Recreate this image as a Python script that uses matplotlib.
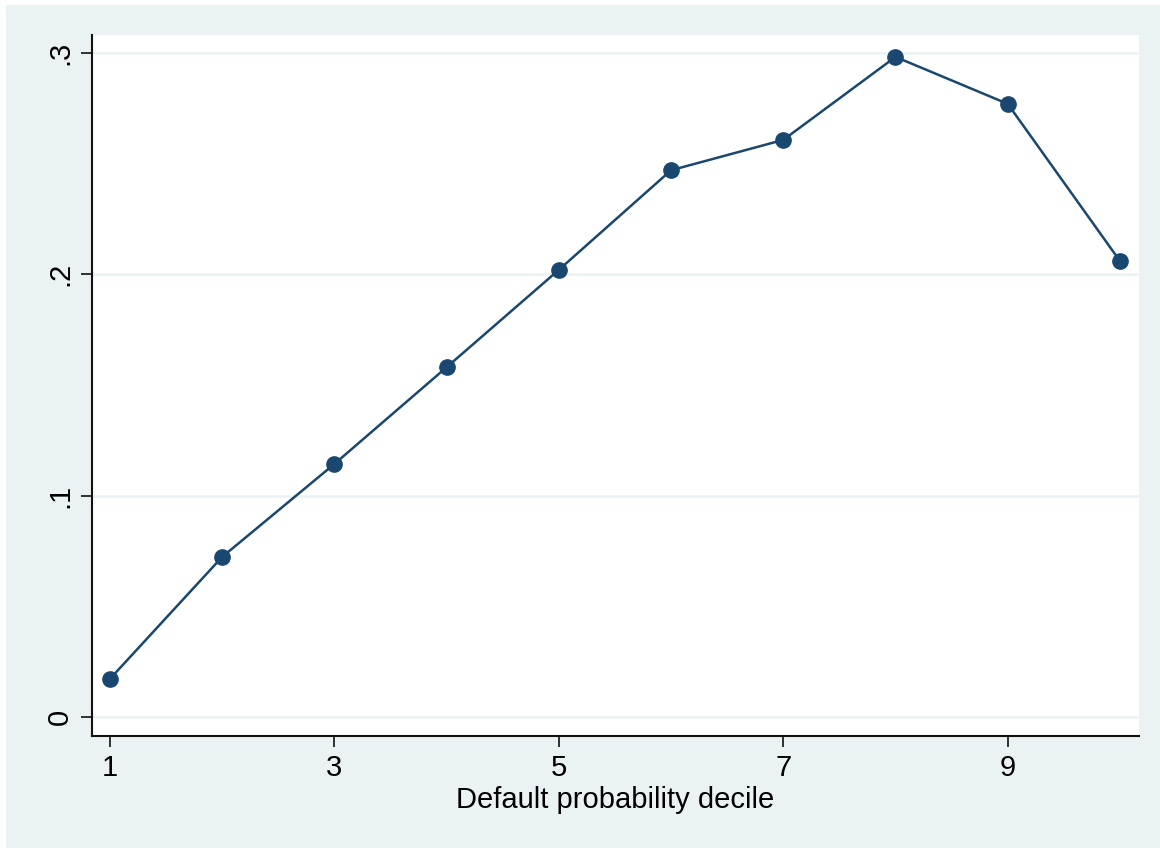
import matplotlib.pyplot as plt
from matplotlib.patches import Rectangle

plt.rcParams['font.family'] = ['Liberation Sans', 'DejaVu Sans']

decile = [1, 2, 3, 4, 5, 6, 7, 8, 9, 10]
share = [0.0172, 0.0723, 0.1143, 0.158, 0.202, 0.247, 0.2607, 0.2982, 0.277, 0.206]
xticks = [1, 3, 5, 7, 9]
yticks = [0, 0.1, 0.2, 0.3]
ylabels = ['0', '.1', '.2', '.3']

bg = '#eaf2f3'
navy = '#1a476f'

fig = plt.figure(figsize=(11.6, 8.48), dpi=100, facecolor='white')
fig.patches.append(Rectangle((6 / 1160, 0), 1, 843 / 848, transform=fig.transFigure,
                             facecolor=bg, edgecolor='none', zorder=-10))
ax = fig.add_axes([92 / 1160, 112 / 848, 1047 / 1160, 701 / 848])
ax.set_facecolor('white')

ax.plot(decile, share, color=navy, lw=1.8, marker='o', markersize=11,
        markerfacecolor=navy, markeredgecolor=navy, clip_on=False, zorder=3)

ax.set_xlim(0.84, 10.17)
ax.set_ylim(-0.0086, 0.3081)
ax.set_xticks(xticks)
ax.set_yticks(yticks)
ax.set_yticklabels(ylabels, rotation=90, va='center')
ax.grid(axis='y', color=bg, lw=1.8, zorder=0)
ax.set_axisbelow(True)

for s in ['top', 'right']:
    ax.spines[s].set_visible(False)
for s in ['left', 'bottom']:
    ax.spines[s].set_linewidth(1.5)
    ax.spines[s].set_color('#111111')

ax.tick_params(axis='both', direction='out', length=8, width=1.2, color='#111111',
               labelsize=21, pad=5)
ax.set_xlabel('Default probability decile', fontsize=21, labelpad=3)

fig.savefig('out.png', dpi=100, facecolor=fig.get_facecolor())
